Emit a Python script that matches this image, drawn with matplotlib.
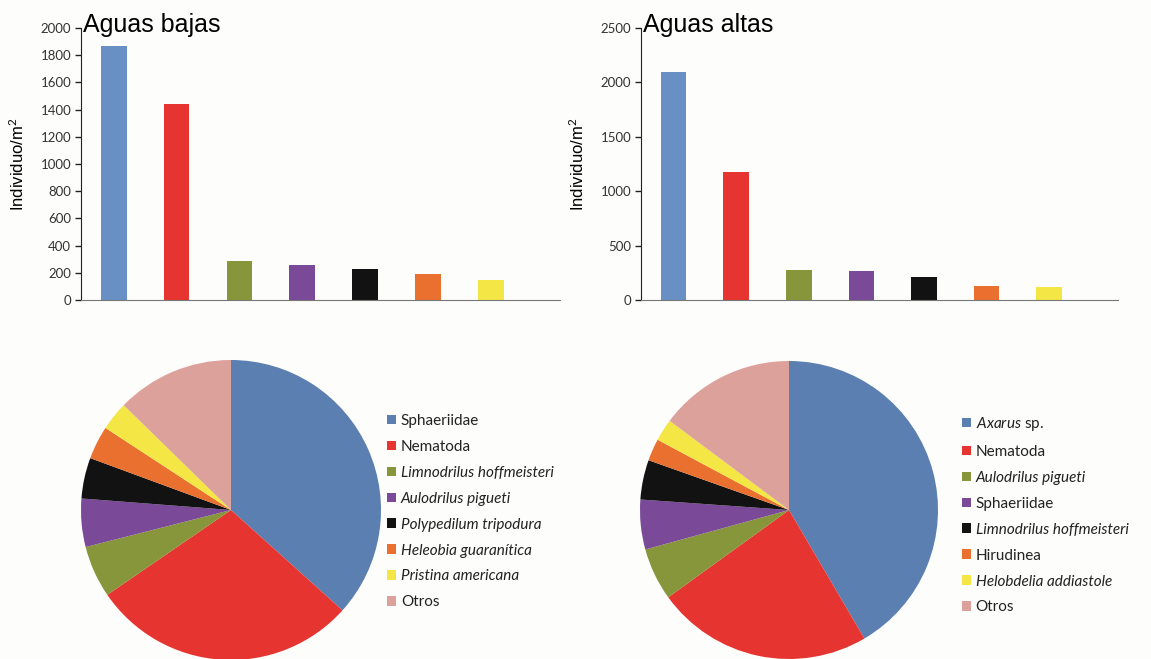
import matplotlib.pyplot as plt
import matplotlib as mpl
from matplotlib.patches import Patch

mpl.rcParams.update({"font.family": "Lato", "mathtext.fontset": "custom",
                     "mathtext.rm": "Lato", "mathtext.it": "Lato:italic"})

BLUE_BAR = "#6890C5"; BLUE_PIE = "#5B7FB0"; RED = "#E63430"; GREEN = "#87963A"
PURPLE = "#7A4A98"; BLACK = "#121212"; ORANGE = "#EA7030"; YELLOW = "#F3E645"; PINK = "#DDA19B"
BG = "#FDFDFB"

bar_colors = [BLUE_BAR, RED, GREEN, PURPLE, BLACK, ORANGE, YELLOW]
pie_colors = [BLUE_PIE, RED, GREEN, PURPLE, BLACK, ORANGE, YELLOW, PINK]

# Aguas bajas
bajas_vals = [1870, 1440, 290, 260, 225, 190, 150]
bajas_pct = [36.7, 28.8, 5.6, 5.2, 4.4, 3.6, 3.1, 12.7]
bajas_labels = ["Sphaeriidae", "Nematoda", "Limnodrilus hoffmeisteri", "Aulodrilus pigueti",
                "Polypedilum tripodura", "Heleobia guaranítica", "Pristina americana", "Otros"]
bajas_italic = [False, False, True, True, True, True, True, False]

# Aguas altas
altas_vals = [2100, 1180, 280, 270, 210, 125, 115]
altas_pct = [41.6, 23.5, 5.7, 5.4, 4.3, 2.4, 2.4, 14.8]
altas_labels = [r"$\mathit{Axarus}$ sp.", "Nematoda", "Aulodrilus pigueti", "Sphaeriidae",
                "Limnodrilus hoffmeisteri", "Hirudinea", "Helobdelia addiastole", "Otros"]
altas_italic = [False, False, True, False, True, False, True, False]

W, H = 1151, 659
fig = plt.figure(figsize=(W / 100, H / 100), dpi=100, facecolor=BG)


def px(x0, y0, x1, y1):
    return [x0 / W, 1 - y1 / H, (x1 - x0) / W, (y1 - y0) / H]


def bar_panel(rect, vals, ymax, step, title):
    ax = fig.add_axes(rect)
    ax.set_facecolor(BG)
    x = list(range(len(vals)))
    ax.bar(x, vals, width=0.41, color=bar_colors)
    ax.set_xlim(-0.52, 7.1)
    ax.set_ylim(0, ymax)
    ax.set_yticks(range(0, ymax + 1, step))
    ax.set_xticks([])
    for s in ("top", "right"):
        ax.spines[s].set_visible(False)
    ax.spines["left"].set_color("#222222")
    ax.spines["bottom"].set_color("#777777")
    ax.tick_params(axis="y", length=4, width=1, color="#222222", labelsize=9.5,
                   labelcolor="#333333", pad=3)
    ax.set_ylabel("Individuo/m$^2$", family="Liberation Sans", fontsize=12, labelpad=10)
    ax.text(0.005, 0.985, title, transform=ax.transAxes, family="Liberation Sans",
            fontsize=18, va="baseline", ha="left")
    return ax


bar_panel(px(81, 28, 560, 300), bajas_vals, 2000, 200, "Aguas bajas")
bar_panel(px(641, 28, 1118, 300), altas_vals, 2500, 500, "Aguas altas")


def pie_panel(rect, pct, labels, italic, lx, ly):
    ax = fig.add_axes(rect)
    ax.pie(pct, colors=pie_colors, startangle=90, counterclock=False,
           wedgeprops=dict(linewidth=0))
    ax.set_xlim(-1, 1); ax.set_ylim(-1, 1)
    ax.set_aspect("equal")
    handles = [Patch(facecolor=c, edgecolor="none") for c in pie_colors]
    leg = fig.legend(handles, labels, loc="upper left", bbox_to_anchor=(lx / W, 1 - ly / H),
                     frameon=False, fontsize=11, handlelength=0.6, handleheight=0.6,
                     handletextpad=0.3, labelspacing=0.78, borderaxespad=0, borderpad=0)
    for t, it in zip(leg.get_texts(), italic):
        t.set_color("#222222")
        if it:
            t.set_style("italic")


pie_panel(px(81, 360, 381, 660), bajas_pct, bajas_labels, bajas_italic, 387, 414)
pie_panel(px(640, 361, 938, 659), altas_pct, altas_labels, altas_italic, 962, 415)

fig.savefig("out.png", dpi=100, facecolor=BG)
